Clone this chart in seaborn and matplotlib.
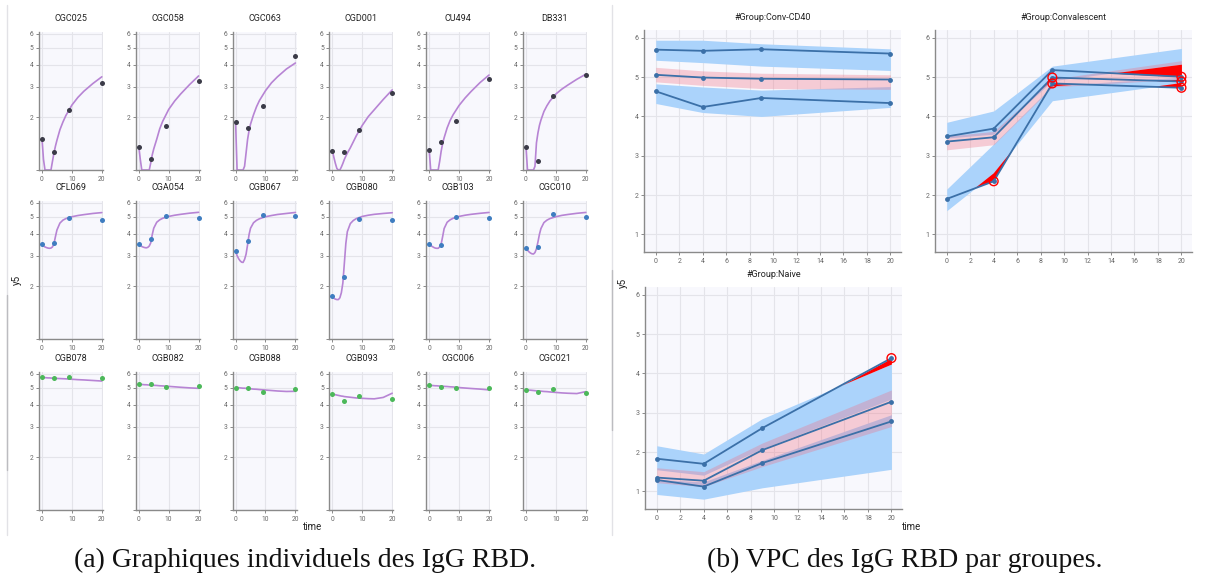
import numpy as np
import matplotlib
matplotlib.use("Agg")
import matplotlib.pyplot as plt
from matplotlib.lines import Line2D
from matplotlib.ticker import NullLocator, FixedLocator, FixedFormatter
import seaborn as sns

sns.set_theme(style="white")
plt.rcParams['font.family'] = ['Roboto', 'DejaVu Sans']

W, H = 1205, 578

# ---------------- (a) individual fits ----------------
obs_times = [0, 4, 9, 20]
fit_times = [0, 0.5, 1, 1.5, 2, 2.5, 3, 3.5, 4, 4.5, 5, 6, 7, 8, 10, 12, 14, 17, 20]

row1_ids = ["CGC025", "CGC058", "CGC063", "CGD001", "CU494", "DB331"]
row1_obs = [
    [1.51, 1.27, 2.21, 3.16],
    [1.36, 1.15, 1.78, 3.24],
    [1.87, 1.73, 2.33, 4.49],
    [1.29, 1.27, 1.70, 2.75],
    [1.30, 1.44, 1.90, 3.31],
    [1.36, 1.12, 2.65, 3.50],
]
row1_fit = [
    [1.51, 1.15, 1.0, 1.0, 1.0, 1.0, 1.0, 1.12, 1.25, 1.37, 1.48, 1.70, 1.88, 2.05, 2.35, 2.60, 2.82, 3.12, 3.41],
    [1.36, 1.15, 1.0, 1.0, 1.0, 1.0, 1.0, 1.0, 1.10, 1.22, 1.32, 1.50, 1.72, 1.90, 2.22, 2.48, 2.72, 3.08, 3.45],
    [1.87, 1.0, 1.0, 1.0, 1.0, 1.0, 1.05, 1.25, 1.49, 1.68, 1.83, 2.07, 2.30, 2.50, 2.84, 3.15, 3.41, 3.78, 4.09],
    [1.29, 1.18, 1.09, 1.02, 1.0, 1.0, 1.04, 1.09, 1.15, 1.20, 1.25, 1.34, 1.45, 1.57, 1.80, 2.02, 2.21, 2.53, 2.87],
    [1.30, 1.0, 1.0, 1.0, 1.0, 1.0, 1.0, 1.12, 1.28, 1.42, 1.53, 1.74, 1.92, 2.07, 2.34, 2.58, 2.81, 3.16, 3.49],
    [1.36, 1.0, 1.0, 1.0, 1.0, 1.0, 1.05, 1.43, 1.63, 1.80, 1.93, 2.16, 2.33, 2.48, 2.72, 2.90, 3.06, 3.30, 3.53],
]

row2_ids = ["CFL069", "CGA054", "CGB067", "CGB080", "CGB103", "CGC010"]
row2_obs = [
    [3.47, 3.52, 4.92, 4.81],
    [3.50, 3.71, 5.07, 4.92],
    [3.18, 3.61, 5.09, 5.03],
    [1.77, 2.25, 4.86, 4.76],
    [3.49, 3.44, 4.96, 4.89],
    [3.30, 3.37, 5.21, 4.96],
]
row2_fit = [
    [3.44, 3.40, 3.36, 3.33, 3.31, 3.30, 3.31, 3.36, 3.50, 3.85, 4.20, 4.60, 4.78, 4.88, 5.00, 5.08, 5.14, 5.22, 5.28],
    [3.47, 3.42, 3.38, 3.35, 3.33, 3.32, 3.34, 3.40, 3.55, 3.95, 4.30, 4.65, 4.80, 4.90, 5.02, 5.10, 5.16, 5.24, 5.30],
    [3.16, 3.00, 2.88, 2.80, 2.75, 2.74, 2.85, 3.05, 3.45, 3.95, 4.30, 4.62, 4.77, 4.87, 5.00, 5.08, 5.15, 5.22, 5.29],
    [1.75, 1.71, 1.69, 1.68, 1.68, 1.72, 1.84, 2.09, 2.71, 3.52, 4.11, 4.57, 4.76, 4.88, 5.02, 5.10, 5.16, 5.22, 5.27],
    [3.47, 3.42, 3.38, 3.34, 3.31, 3.30, 3.30, 3.36, 3.49, 3.85, 4.28, 4.65, 4.80, 4.90, 5.02, 5.10, 5.16, 5.23, 5.29],
    [3.30, 3.22, 3.15, 3.10, 3.07, 3.06, 3.12, 3.28, 3.59, 3.97, 4.28, 4.63, 4.78, 4.88, 5.00, 5.09, 5.15, 5.23, 5.29],
]

row3_ids = ["CGB078", "CGB082", "CGB088", "CGB093", "CGC006", "CGC021"]
row3_obs = [
    [5.75, 5.72, 5.78, 5.65],
    [5.25, 5.25, 5.03, 5.12],
    [5.01, 4.96, 4.75, 4.90],
    [4.63, 4.19, 4.47, 4.32],
    [5.16, 5.02, 5.01, 4.98],
    [4.88, 4.75, 4.92, 4.69],
]
row3_fit = [
    [5.72, 5.71, 5.71, 5.70, 5.69, 5.69, 5.68, 5.67, 5.67, 5.66, 5.65, 5.64, 5.63, 5.62, 5.59, 5.56, 5.54, 5.50, 5.46],
    [5.23, 5.22, 5.22, 5.21, 5.20, 5.20, 5.19, 5.18, 5.17, 5.17, 5.16, 5.15, 5.13, 5.12, 5.09, 5.06, 5.03, 4.99, 4.96],
    [5.01, 5.00, 5.00, 4.99, 4.98, 4.97, 4.97, 4.96, 4.95, 4.94, 4.93, 4.91, 4.90, 4.88, 4.85, 4.82, 4.79, 4.76, 4.77],
    [4.61, 4.58, 4.56, 4.54, 4.52, 4.50, 4.48, 4.47, 4.45, 4.44, 4.43, 4.41, 4.39, 4.37, 4.35, 4.33, 4.32, 4.40, 4.65],
    [5.16, 5.15, 5.15, 5.14, 5.13, 5.13, 5.12, 5.11, 5.10, 5.10, 5.09, 5.08, 5.06, 5.05, 5.01, 4.98, 4.95, 4.91, 4.86],
    [4.86, 4.85, 4.84, 4.84, 4.83, 4.82, 4.81, 4.80, 4.80, 4.79, 4.78, 4.76, 4.75, 4.73, 4.70, 4.67, 4.65, 4.63, 4.75],
]

left_yticks = [1, 2, 3, 4, 5, 6]
left_yticklabels = ["", "2", "3", "4", "5", "6"]
left_xticks = [0, 10, 20]

# ---------------- (b) VPC by group ----------------
vpc_times = [0, 4, 9, 20]

cd40_emp_p90 = [5.70, 5.67, 5.71, 5.60]
cd40_emp_med = [5.06, 4.99, 4.96, 4.94]
cd40_emp_p10 = [4.64, 4.24, 4.47, 4.34]
cd40_pi90_lo = [5.43, 5.37, 5.28, 5.17]
cd40_pi90_hi = [5.94, 5.94, 5.85, 5.72]
cd40_pi50_lo = [4.88, 4.79, 4.71, 4.69]
cd40_pi50_hi = [5.25, 5.16, 5.10, 5.06]
cd40_pi10_lo = [4.33, 4.10, 4.00, 4.23]
cd40_pi10_hi = [4.83, 4.75, 4.67, 4.76]

conv_emp_p90 = [3.49, 3.69, 5.18, 5.01]
conv_emp_med = [3.36, 3.47, 4.99, 4.89]
conv_emp_p10 = [1.90, 2.35, 4.84, 4.73]
conv_pi90_lo = [3.45, 3.55, 4.91, 5.33]
conv_pi90_hi = [3.85, 4.14, 5.28, 5.73]
conv_pi50_lo = [3.15, 3.28, 4.75, 4.95]
conv_pi50_hi = [3.50, 3.62, 4.95, 5.42]
conv_pi10_lo = [1.60, 2.55, 4.40, 4.85]
conv_pi10_hi = [2.15, 3.30, 4.78, 5.00]

naive_emp_p90 = [1.83, 1.70, 2.61, 4.39]
naive_emp_med = [1.35, 1.27, 2.05, 3.28]
naive_emp_p10 = [1.29, 1.12, 1.72, 2.78]
naive_pi90_lo = [1.55, 1.41, 2.09, 3.35]
naive_pi90_hi = [2.16, 1.95, 2.85, 4.24]
naive_pi50_lo = [1.22, 1.12, 1.63, 2.65]
naive_pi50_hi = [1.60, 1.50, 2.23, 3.58]
naive_pi10_lo = [0.92, 0.80, 1.09, 1.56]
naive_pi10_hi = [1.30, 1.24, 1.79, 2.95]

group_titles = ["#Group:Conv-CD40", "#Group:Convalescent", "#Group:Naive"]

# ---------------- styling ----------------
BG = "#f8f8fd"
GRID = "#e4e4ea"
SPINE = "#8a8a8a"
TICKC = "#666666"
PURPLE = "#b784d4"
DOT = ["#3b3b48", "#3f7dc0", "#4cb85a"]
BLUE_BAND = "#abd3fb"
PINK = (0.94, 0.43, 0.51, 0.32)
LINEC = "#3b70a8"

fig = plt.figure(figsize=(W / 100, H / 100), dpi=100)
fig.patch.set_facecolor("white")


def add_ax(left, top, width, height):
    return fig.add_axes([left / W, 1 - (top + height) / H, width / W, height / H])


def style(ax, labelsize=5.0):
    ax.set_facecolor(BG)
    for s in ["top", "right"]:
        ax.spines[s].set_visible(False)
    for s in ["left", "bottom"]:
        ax.spines[s].set_color(SPINE)
        ax.spines[s].set_linewidth(1.0)
    ax.tick_params(axis="both", which="major", length=2.5, width=0.7, color=SPINE,
                   labelsize=labelsize, labelcolor=TICKC, pad=1.5,
                   left=True, bottom=True)
    ax.grid(True, color=GRID, linewidth=0.8)
    ax.set_axisbelow(True)
    ax.set_xlabel("")
    ax.set_ylabel("")


# (a) grid of individual panels
col_lefts = [39 + 96.8 * i for i in range(6)]
row_tops = [32, 201, 372]
rows = [(row1_ids, row1_obs, row1_fit), (row2_ids, row2_obs, row2_fit), (row3_ids, row3_obs, row3_fit)]

for r, (ids, obs, fits) in enumerate(rows):
    for c in range(6):
        ax = add_ax(col_lefts[c], row_tops[r], 64, 138)
        sns.lineplot(x=fit_times, y=fits[c], ax=ax, color=PURPLE, linewidth=1.2,
                     clip_on=False, zorder=2)
        sns.scatterplot(x=obs_times, y=obs[c], ax=ax, color=DOT[r], s=13,
                        linewidth=0, zorder=3, clip_on=False)
        ax.set_yscale("log")
        ax.set_ylim(1.0, 6.15)
        ax.set_xlim(-1, 20.4)
        ax.yaxis.set_major_locator(FixedLocator(left_yticks))
        ax.yaxis.set_major_formatter(FixedFormatter(left_yticklabels))
        ax.yaxis.set_minor_locator(NullLocator())
        ax.set_xticks(left_xticks)
        ax.set_xticklabels([str(v) for v in left_xticks])
        style(ax, labelsize=4.8)
        ax.set_title(ids[c], fontsize=6.5, color="#222222", pad=8)

fig.text(17 / W, 1 - 280 / H, "y5", rotation=90, ha="center", va="center", fontsize=7, color="#222222")
fig.text(313 / W, 1 - 527 / H, "time", ha="center", va="center", fontsize=7, color="#222222")

# (b) VPC panels
groups = [
    (cd40_emp_p10, cd40_emp_med, cd40_emp_p90, cd40_pi10_lo, cd40_pi10_hi, cd40_pi50_lo, cd40_pi50_hi, cd40_pi90_lo, cd40_pi90_hi),
    (conv_emp_p10, conv_emp_med, conv_emp_p90, conv_pi10_lo, conv_pi10_hi, conv_pi50_lo, conv_pi50_hi, conv_pi90_lo, conv_pi90_hi),
    (naive_emp_p10, naive_emp_med, naive_emp_p90, naive_pi10_lo, naive_pi10_hi, naive_pi50_lo, naive_pi50_hi, naive_pi90_lo, naive_pi90_hi),
]
pos = [(644, 30), (935, 30), (645, 287)]

t = np.array(vpc_times, dtype=float)
for g, (p10, med, p90, l10, h10, l50, h50, l90, h90) in enumerate(groups):
    ax = add_ax(pos[g][0], pos[g][1], 257, 222)
    ax.fill_between(t, l90, h90, color=BLUE_BAND, linewidth=0, zorder=1)
    ax.fill_between(t, l10, h10, color=BLUE_BAND, linewidth=0, zorder=1)
    ax.fill_between(t, l50, h50, color=PINK, linewidth=0, zorder=2)
    outl_x, outl_y = [], []
    for emp, lo, hi in [(p10, l10, h10), (med, l50, h50), (p90, l90, h90)]:
        e = np.array(emp); lo = np.array(lo); hi = np.array(hi)
        ax.fill_between(t, e, hi, where=e > hi, interpolate=True, color="red", linewidth=0, zorder=3)
        ax.fill_between(t, e, lo, where=e < lo, interpolate=True, color="red", linewidth=0, zorder=3)
        mask = (e > hi) | (e < lo)
        outl_x += list(t[mask]); outl_y += list(e[mask])
        sns.lineplot(x=vpc_times, y=emp, ax=ax, color=LINEC, linewidth=1.3, marker="o",
                     markersize=3.5, markeredgewidth=0, zorder=4)
    if outl_x:
        ax.scatter(outl_x, outl_y, s=40, facecolors="none", edgecolors="red", linewidths=1.0, zorder=5)
    ax.set_xlim(-1, 20.9)
    ax.set_ylim(0.55, 6.2)
    ax.set_xticks(range(0, 21, 2))
    ax.set_yticks([1, 2, 3, 4, 5, 6])
    style(ax, labelsize=5.0)
    ax.set_title(group_titles[g], fontsize=6.5, color="#222222", pad=7)

fig.text(623 / W, 1 - 283 / H, "y5", rotation=90, ha="center", va="center", fontsize=7, color="#222222")
fig.text(912 / W, 1 - 527 / H, "time", ha="center", va="center", fontsize=7, color="#222222")

# frame lines of the two sub-figures
for x in (7, 612):
    fig.add_artist(Line2D([x / W, x / W], [1 - 5 / H, 1 - 535 / H], color="#e2e2e6", linewidth=1.0))
fig.add_artist(Line2D([7 / W, 7 / W], [1 - 295 / H, 1 - 470 / H], color="#bcbcc0", linewidth=1.0))
fig.add_artist(Line2D([612 / W, 612 / W], [1 - 270 / H, 1 - 430 / H], color="#bcbcc0", linewidth=1.0))

# captions
fig.text(305 / W, 1 - 560 / H, "(a) Graphiques individuels des IgG RBD.", ha="center", va="center",
         fontsize=20, family=["Liberation Serif", "DejaVu Serif"], color="#111111")
fig.text(905 / W, 1 - 560 / H, "(b) VPC des IgG RBD par groupes.", ha="center", va="center",
         fontsize=20, family=["Liberation Serif", "DejaVu Serif"], color="#111111")

fig.savefig("out.png", dpi=100, facecolor="white")
